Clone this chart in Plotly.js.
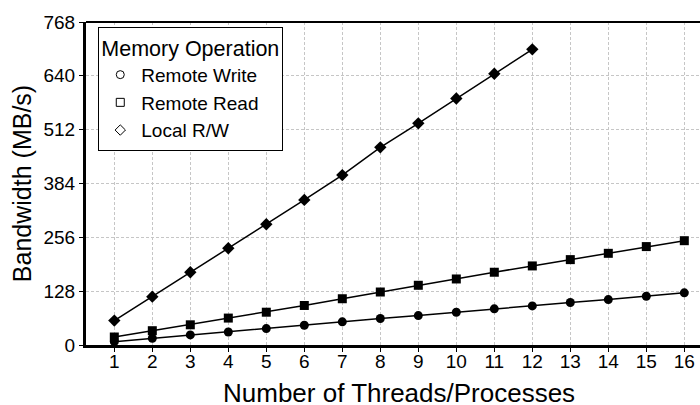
<!DOCTYPE html>
<html>
<head>
<meta charset="utf-8">
<script src="https://cdn.plot.ly/plotly-3.0.1.min.js"></script>
<style>
  html, body { margin: 0; padding: 0; background: #fff; }
  #grafica { width: 700px; height: 405px; }
</style>
</head>
<body>
<div id="grafica"></div>
<script>
// valores
const hilos = [1,2,3,4,5,6,7,8,9,10,11,12,13,14,15,16];
const hilosLocal = [1,2,3,4,5,6,7,8,9,10,11,12];
const remoteWrite = [8,16,24,31,39,47,55,63,70,78,86,93,101,108,116,124];
const remoteRead = [19,34,48,64,78,94,110,126,142,157,173,188,203,218,234,248];
const localRW = [58,115,173,230,287,345,404,470,527,586,645,703];
const yTicks = [0,128,256,384,512,640,768];
const nombres = ["Remote Write","Remote Read","Local R/W"];

const fuente = "Liberation Sans, Arial, sans-serif";

function serie(x, y, simbolo, tam){
    return {
        mode: 'lines+markers',
        x: x,
        y: y,
        showlegend: false,
        line: {color: "black", width: 1.5},
        marker: {symbol: simbolo, size: tam, color: "black"},
        hoverinfo: 'skip'
    };
}
// trazas solo para la leyenda (simbolos huecos)
function leyenda(nombre, simbolo){
    return {
        mode: 'markers',
        x: [null],
        y: [null],
        name: nombre,
        marker: {symbol: simbolo, size: 8, color: "black", line: {color: "black", width: 1}}
    };
}

let datos = [
    serie(hilos, remoteWrite, 'circle', 9),
    serie(hilos, remoteRead, 'square', 9),
    serie(hilosLocal, localRW, 'diamond', 9.5),
    leyenda(nombres[0], 'circle-open'),
    leyenda(nombres[1], 'square-open'),
    leyenda(nombres[2], 'diamond-open')
];

let layout = {
    width: 700,
    height: 405,
    margin: {l: 86, r: 0, t: 22, b: 60},
    paper_bgcolor: "white",
    plot_bgcolor: "white",
    font: {family: fuente, color: "black"},
    showlegend: true,
    legend: {
        x: 0.02, xanchor: 'left',
        y: 0.985, yanchor: 'top',
        bgcolor: "white",
        bordercolor: "black",
        borderwidth: 1,
        font: {family: fuente, size: 19, color: "black"},
        title: {text: "Memory Operation", font: {family: fuente, size: 21.5, color: "black"}},
        itemwidth: 32,
        tracegroupgap: 0
    },
    xaxis: {
        range: [0.255, 16.413],
        tickvals: hilos,
        ticktext: hilos.map(String),
        showgrid: true,
        gridcolor: "#c6c6c6",
        griddash: "3px,2px",
        gridwidth: 1,
        zeroline: false,
        showline: true,
        linecolor: "black",
        linewidth: 3,
        ticks: "outside",
        ticklen: 4,
        tickcolor: "black",
        ticklabelstandoff: -7,
        tickfont: {family: fuente, size: 19, color: "black"}
    },
    yaxis: {
        range: [0, 768],
        tickvals: yTicks,
        ticktext: yTicks.map(String),
        showgrid: true,
        gridcolor: "#c6c6c6",
        griddash: "3px,2px",
        gridwidth: 1,
        zeroline: false,
        showline: true,
        linecolor: "black",
        linewidth: 3,
        ticks: "outside",
        ticklen: 4,
        tickcolor: "black",
        tickfont: {family: fuente, size: 19, color: "black"},
        title: {text: "Bandwidth (MB/s)", font: {family: fuente, size: 25, color: "black"}, standoff: 5}
    },
    // titulo del eje x como anotacion para poder bajarlo
    annotations: [
        {text: "Number of Threads/Processes", xref: 'paper', yref: 'paper', x: 0.51, y: 0,
         xanchor: 'center', yanchor: 'middle', yshift: -48, showarrow: false, borderpad: 0,
         font: {family: fuente, size: 26, color: "black"}}
    ],
    shapes: [
        {type: 'line', xref: 'paper', yref: 'paper', x0: 0, x1: 1, y0: 1, y1: 1,
         line: {color: "black", width: 2}}
    ]
};

Plotly.newPlot("grafica", datos, layout, {displayModeBar: false, staticPlot: true});
</script>
</body>
</html>
